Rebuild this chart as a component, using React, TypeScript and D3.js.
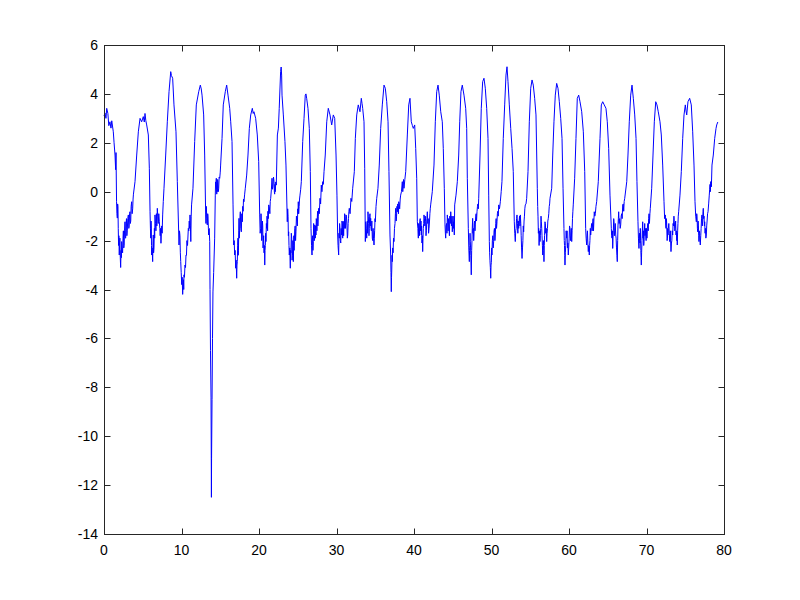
import React from "react";
import * as d3 from "d3";

const xTicks = [0, 10, 20, 30, 40, 50, 60, 70, 80];
const yTicks = [-14, -12, -10, -8, -6, -4, -2, 0, 2, 4, 6];
const xDomain: [number, number] = [0, 80];
const yDomain: [number, number] = [-14, 6];

// [time, value]
const signalPoints: [number, number][] = [
[0,3.1],[0.13,3.22],[0.25,3.0],[0.35,3.41],[0.5,3.2],[0.62,2.7],[0.77,2.86],[0.9,2.6],[1.0,2.9],[1.2,2.45],[1.3,2.0],[1.42,1.5],[1.5,0.9],[1.55,1.6],
[1.62,-0.41],[1.67,-0.9],[1.72,-1.08],[1.76,-0.5],[1.8,-0.6],[1.84,-1.5],[1.88,-2.2],[1.92,-1.8],[1.97,-2.59],[2.01,-2.2],[2.05,-1.9],[2.1,-2.7],[2.15,-3.1],[2.2,-2.4],[2.24,-2.7],[2.28,-2.04],[2.34,-2.3],[2.4,-2.5],[2.45,-1.9],[2.5,-1.6],[2.55,-2.3],[2.6,-2.2],[2.65,-1.6],[2.71,-1.23],[2.76,-1.9],[2.8,-1.9],[2.85,-1.3],[2.9,-1.1],[2.95,-1.8],[3.0,-1.6],[3.07,-1.1],[3.14,-0.95],[3.2,-1.5],[3.25,-1.4],[3.3,-0.9],[3.35,-0.82],[3.4,-1.3],[3.45,-1.2],[3.5,-0.6],[3.57,-0.41],[3.63,-0.9],[3.7,-0.7],[3.75,-0.3],[3.8,-0.1],
[4.0,0.41],[4.22,1.5],[4.43,2.45],[4.65,3.0],[4.86,2.86],[5.07,3.07],[5.2,2.85],[5.29,3.2],[5.4,2.9],[5.51,2.73],[5.72,2.32],[5.85,0.96],
[5.94,-0.82],[5.99,-1.5],[6.03,-1.9],[6.07,-1.2],[6.1,-1.4],[6.13,-2.2],[6.15,-2.59],[6.21,-2.3],[6.28,-2.86],[6.32,-2.1],[6.36,-1.77],[6.4,-2.5],[6.45,-2.3],[6.5,-1.5],[6.54,-1.9],[6.58,-0.95],[6.64,-1.3],[6.7,-1.6],[6.76,-0.9],[6.82,-1.4],[6.88,-0.68],[6.94,-1.0],[7.0,-1.3],[7.07,-0.9],[7.14,-1.23],[7.2,-1.5],[7.25,-1.8],[7.3,-1.5],[7.35,-2.11],[7.4,-1.7],[7.45,-1.4],[7.5,-1.7],[7.57,-0.95],[7.65,-0.4],[7.74,0.14],
[7.96,1.5],[8.17,2.86],[8.39,4.09],[8.61,4.91],[8.7,4.75],[8.86,4.64],[9.03,3.55],[9.29,2.45],[9.46,0.41],
[9.68,-2.18],[9.74,-1.6],[9.8,-1.8],[9.85,-2.5],[9.9,-2.86],[9.96,-3.3],[10.03,-3.8],[10.09,-3.5],[10.15,-4.2],[10.2,-3.8],[10.25,-3.6],[10.29,-4.0],[10.32,-3.4],[10.38,-3.5],[10.45,-3.0],[10.52,-3.1],[10.58,-2.59],[10.64,-2.6],[10.7,-2.0],[10.78,-2.2],[10.88,-1.5],[10.94,-1.6],[11.0,-1.2],[11.05,-1.5],[11.1,-0.95],[11.15,-1.4],[11.2,-2.04],[11.25,-1.0],[11.3,-0.54],
[11.48,0.14],[11.7,2.05],[11.91,3.55],[12.22,4.09],[12.43,4.36],[12.55,4.2],[12.65,3.95],[12.86,3.14],[12.99,1.5],
[13.12,-0.95],[13.16,-1.3],[13.2,-0.6],[13.27,-1.1],[13.33,-1.36],[13.38,-0.9],[13.42,-1.0],[13.47,-1.5],[13.51,-1.77],[13.57,-1.5],[13.64,-2.04],
[13.68,-4.0],[13.74,-6.5],[13.81,-8.4],[13.84,-10.8],[13.86,-12.5],[13.88,-10.9],[13.94,-8.5],[14.0,-6.0],[14.06,-4.1],[14.15,-3.3],[14.28,-1.9],
[14.36,-0.14],[14.4,0.4],[14.45,0.3],[14.49,0.55],[14.52,0.1],[14.55,-0.1],[14.59,0.3],[14.62,0.0],[14.66,0.5],[14.7,0.4],[14.75,0.0],[14.8,0.14],[14.86,0.6],[14.93,0.55],[15.0,0.8],[15.05,1.09],
[15.23,2.18],[15.39,3.55],[15.65,4.09],[15.83,4.36],[16.0,3.95],[16.22,3.41],[16.35,2.86],[16.52,2.05],
[16.65,-0.54],[16.74,-2.18],[16.8,-2.0],[16.86,-2.59],[16.92,-2.4],[16.99,-3.13],[17.05,-2.8],[17.12,-3.54],[17.16,-3.0],[17.2,-2.86],[17.25,-2.2],[17.29,-1.9],[17.32,-2.6],[17.35,-2.4],[17.39,-1.6],[17.42,-1.09],[17.46,-1.9],[17.5,-1.6],[17.55,-1.0],[17.59,-0.82],[17.65,-1.5],[17.72,-1.64],[17.78,-0.9],[17.85,-1.23],[17.9,-0.6],[17.95,-0.8],[18.0,-0.3],[18.06,-0.41],[18.15,-0.1],[18.23,0.14],
[18.41,0.68],[18.58,1.5],[18.75,2.59],[18.93,3.14],[19.14,3.41],[19.25,3.2],[19.35,3.27],[19.57,3.0],[19.78,2.32],[19.96,1.23],
[20.09,-0.95],[20.15,-1.7],[20.22,-1.5],[20.26,-0.9],[20.3,-1.2],[20.35,-2.0],[20.39,-1.77],[20.44,-1.2],[20.48,-1.4],[20.52,-2.3],[20.55,-2.18],[20.6,-1.8],[20.65,-2.5],[20.7,-2.2],[20.74,-3.0],[20.78,-2.4],[20.82,-2.2],[20.86,-1.7],[20.9,-2.04],[20.95,-1.3],[21.0,-1.5],[21.04,-1.0],[21.07,-1.23],[21.11,-1.6],[21.15,-0.8],[21.2,-1.1],[21.25,-0.54],[21.32,-0.6],[21.4,-0.9],[21.45,-0.4],[21.51,-0.27],[21.6,0.1],[21.68,0.55],[21.74,0.1],[21.8,0.2],[21.87,0.6],[21.94,0.41],[21.98,0.0],[22.02,-0.1],[22.06,0.3],[22.1,0.0],[22.16,0.4],[22.23,0.27],
[22.37,2.32],[22.5,2.6],[22.61,3.41],[22.79,4.91],[22.86,5.1],[22.92,4.77],[22.97,3.95],[23.14,3.14],[23.35,2.05],[23.48,1.09],
[23.65,-1.23],[23.7,-0.7],[23.75,-1.0],[23.79,-1.8],[23.83,-1.64],[23.87,-2.2],[23.91,-2.59],[23.97,-2.3],[24.04,-3.13],[24.08,-2.4],[24.12,-2.5],[24.17,-1.7],[24.22,-1.9],[24.27,-2.8],[24.32,-2.6],[24.37,-2.0],[24.43,-2.86],[24.47,-2.2],[24.5,-1.8],[24.53,-2.4],[24.56,-2.04],[24.62,-1.5],[24.67,-1.4],[24.72,-2.0],[24.77,-1.64],[24.83,-1.0],[24.9,-1.23],[24.95,-1.4],[25.0,-0.7],[25.04,-0.9],[25.07,-0.41],[25.12,-0.9],[25.18,-0.6],[25.23,-0.3],[25.29,-0.14],[25.38,0.1],[25.46,0.41],
[25.64,2.05],[25.81,3.0],[25.97,3.95],[26.06,4.0],[26.15,3.82],[26.32,3.41],[26.49,2.59],[26.62,0.82],
[26.71,-1.5],[26.78,-2.2],[26.84,-2.59],[26.88,-2.0],[26.92,-1.8],[26.96,-2.4],[27.01,-2.04],[27.05,-1.3],[27.1,-1.5],[27.15,-2.0],[27.19,-1.36],[27.23,-1.4],[27.27,-1.9],[27.31,-1.4],[27.35,-1.77],[27.39,-1.1],[27.43,-1.2],[27.47,-1.6],[27.52,-1.09],[27.56,-0.8],[27.6,-1.4],[27.65,-1.0],[27.7,-0.68],[27.78,-0.9],[27.87,-0.27],[27.95,-0.5],[28.04,0.27],[28.12,0.0],[28.22,0.41],[28.3,0.3],[28.39,0.82],
[28.55,1.5],[28.74,2.86],[28.94,3.41],[29.16,3.14],[29.38,2.73],[29.59,3.14],[29.77,3.0],[29.94,1.5],
[30.06,-0.14],[30.15,-1.77],[30.2,-2.2],[30.28,-2.59],[30.32,-1.7],[30.36,-1.9],[30.4,-1.3],[30.45,-1.5],[30.5,-2.0],[30.55,-2.1],[30.6,-1.5],[30.67,-1.77],[30.71,-1.2],[30.75,-1.3],[30.8,-1.9],[30.84,-1.23],[30.88,-1.4],[30.92,-1.8],[30.97,-1.2],[31.01,-1.5],[31.05,-0.9],[31.1,-1.0],[31.16,-1.5],[31.23,-0.95],[31.29,-1.0],[31.35,-1.4],[31.4,-1.9],[31.45,-1.77],[31.5,-1.3],[31.55,-1.1],[31.6,-0.8],[31.65,-0.68],[31.75,-0.9],[31.87,-0.27],[31.97,-0.4],[32.09,0.14],
[32.3,0.82],[32.43,2.18],[32.61,3.14],[32.81,3.55],[33.03,3.27],[33.2,3.82],[33.3,3.6],[33.38,3.41],[33.55,2.86],[33.64,0.96],
[33.72,-2.04],[33.77,-1.23],[33.83,-1.5],[33.9,-1.9],[33.94,-1.4],[33.98,-1.2],[34.02,-1.7],[34.06,-0.82],[34.1,-1.0],[34.15,-1.3],[34.19,-1.8],[34.23,-1.5],[34.28,-1.0],[34.32,-0.9],[34.37,-1.4],[34.41,-1.09],[34.45,-1.5],[34.5,-1.6],[34.56,-1.2],[34.62,-1.9],[34.67,-2.0],[34.72,-1.5],[34.78,-1.9],[34.84,-2.18],[34.88,-1.9],[34.92,-1.6],[34.97,-1.1],[35.01,-1.23],[35.1,-0.6],[35.19,-0.27],
[35.35,0.14],[35.52,1.09],[35.7,2.59],[35.91,3.55],[36.13,4.36],[36.3,4.23],[36.48,3.68],[36.65,2.86],[36.77,0.82],
[36.9,-1.77],[36.99,-2.59],[37.03,-3.3],[37.07,-4.09],[37.1,-3.5],[37.13,-3.2],[37.17,-2.6],[37.2,-2.86],[37.25,-2.3],[37.3,-2.5],[37.36,-1.9],[37.42,-2.04],[37.48,-1.5],[37.55,-1.3],[37.6,-0.9],[37.64,-0.68],[37.7,-1.2],[37.75,-1.0],[37.8,-0.6],[37.85,-0.82],[37.9,-0.5],[37.95,-0.6],[38.0,-0.9],[38.03,-0.41],[38.09,-0.5],[38.15,-0.7],[38.22,-0.3],[38.28,-0.14],[38.38,0.0],[38.49,0.41],[38.55,0.0],[38.6,0.2],[38.65,0.5],[38.71,0.14],[38.82,0.5],[38.93,0.82],
[39.14,2.32],[39.32,3.55],[39.48,3.82],[39.65,2.86],[39.8,2.7],[39.91,2.59],[40.09,2.73],[40.22,1.77],[40.35,0.55],
[40.43,-1.23],[40.5,-1.5],[40.56,-1.9],[40.6,-1.3],[40.65,-1.4],[40.7,-1.8],[40.74,-1.23],[40.8,-1.1],[40.85,-1.6],[40.9,-1.2],[40.94,-1.77],[40.98,-1.4],[41.03,-2.1],[41.08,-1.8],[41.12,-2.45],[41.16,-1.9],[41.2,-1.5],[41.25,-1.3],[41.29,-0.95],[41.35,-1.1],[41.4,-1.4],[41.45,-1.0],[41.51,-1.23],[41.55,-1.8],[41.6,-1.6],[41.66,-1.1],[41.72,-0.82],[41.78,-1.3],[41.83,-1.1],[41.88,-1.7],[41.94,-1.5],[42.0,-1.2],[42.05,-0.9],[42.1,-0.7],[42.15,-0.54],
[42.36,0.0],[42.58,1.09],[42.75,2.86],[42.93,4.09],[43.1,4.36],[43.26,3.95],[43.45,3.27],[43.65,2.86],[43.78,1.77],[43.91,0.14],
[44.0,-1.36],[44.05,-1.7],[44.09,-1.9],[44.14,-1.4],[44.2,-1.3],[44.25,-1.7],[44.3,-0.95],[44.35,-1.2],[44.4,-1.6],[44.46,-1.1],[44.52,-1.5],[44.57,-1.8],[44.62,-1.0],[44.68,-1.3],[44.74,-0.82],[44.79,-1.1],[44.84,-1.4],[44.89,-1.0],[44.94,-1.64],[45.0,-1.3],[45.05,-1.0],[45.09,-1.5],[45.12,-1.23],[45.16,-1.4],[45.2,-1.77],[45.25,-0.54],
[45.42,-0.14],[45.59,0.41],[45.77,1.5],[45.9,2.86],[46.06,4.09],[46.23,4.36],[46.45,3.95],[46.67,3.41],[46.8,2.59],[46.88,0.55],
[47.01,-1.5],[47.07,-2.3],[47.14,-2.86],[47.17,-2.4],[47.2,-2.2],[47.23,-1.7],[47.26,-2.04],[47.3,-2.3],[47.33,-2.6],[47.36,-3.0],[47.39,-3.4],[47.44,-2.4],[47.48,-2.0],[47.52,-1.5],[47.57,-1.09],[47.61,-1.7],[47.65,-1.5],[47.7,-2.0],[47.74,-1.77],[47.78,-1.3],[47.82,-1.2],[47.87,-1.6],[47.91,-1.36],[47.96,-1.0],[48.02,-0.9],[48.07,-1.2],[48.13,-0.82],[48.19,-0.6],[48.25,-0.5],[48.3,-0.7],[48.35,-0.27],
[48.52,1.5],[48.68,3.41],[48.86,4.5],[49.03,4.64],[49.2,4.23],[49.38,3.41],[49.55,2.18],
[49.64,-0.14],[49.72,-2.04],[49.76,-2.5],[49.8,-2.8],[49.85,-3.1],[49.9,-3.54],[49.94,-3.0],[49.98,-2.9],[50.02,-2.3],[50.06,-2.59],[50.11,-2.0],[50.17,-1.8],[50.22,-2.3],[50.28,-2.04],[50.33,-1.6],[50.38,-1.5],[50.44,-2.0],[50.49,-1.77],[50.55,-1.3],[50.6,-1.1],[50.65,-1.5],[50.71,-1.23],[50.76,-0.9],[50.82,-0.8],[50.87,-1.0],[50.93,-0.54],[51.03,-0.7],[51.14,-0.41],[51.25,0.0],[51.35,0.41],
[51.52,2.18],[51.7,3.55],[51.87,4.77],[52.0,5.11],[52.13,4.5],[52.3,3.55],[52.48,2.59],[52.65,1.77],[52.81,0.82],
[52.94,-1.23],[53.0,-1.7],[53.07,-2.04],[53.12,-1.6],[53.18,-1.5],[53.23,-1.1],[53.29,-0.95],[53.35,-1.3],[53.4,-1.7],[53.45,-1.2],[53.51,-1.5],[53.56,-1.2],[53.62,-1.0],[53.67,-1.4],[53.72,-0.95],[53.78,-1.3],[53.83,-1.8],[53.88,-2.3],[53.94,-2.73],[54.0,-2.3],[54.05,-2.0],[54.1,-1.4],[54.15,-1.64],[54.2,-1.2],[54.25,-1.0],[54.3,-0.7],[54.36,-0.54],[54.45,-0.5],[54.54,-0.27],
[54.71,0.82],[54.88,2.86],[55.06,4.23],[55.23,4.57],[55.39,4.36],[55.57,3.82],[55.74,3.14],
[55.91,0.14],[55.96,-0.6],[56.0,-1.0],[56.05,-1.7],[56.09,-1.5],[56.14,-2.2],[56.18,-1.9],[56.22,-1.6],[56.26,-2.04],[56.3,-1.8],[56.35,-1.5],[56.39,-1.0],[56.43,-1.23],[56.48,-1.5],[56.52,-1.8],[56.57,-2.2],[56.61,-2.59],[56.65,-2.3],[56.7,-2.0],[56.74,-2.4],[56.77,-2.86],[56.81,-2.2],[56.85,-1.8],[56.88,-1.4],[56.9,-1.23],[56.95,-1.3],[57.0,-1.7],[57.06,-1.5],[57.12,-2.04],[57.17,-1.7],[57.22,-1.5],[57.27,-1.2],[57.33,-1.09],[57.39,-0.9],[57.45,-0.6],[57.5,-0.5],[57.55,-0.27],
[57.77,0.14],[57.9,1.5],[58.06,2.86],[58.23,3.95],[58.41,4.43],[58.58,4.23],[58.75,3.68],[58.93,3.0],[59.1,2.18],[59.23,0.14],
[59.35,-1.5],[59.39,-2.0],[59.42,-2.2],[59.45,-2.6],[59.48,-3.0],[59.53,-2.5],[59.58,-2.2],[59.63,-1.6],[59.7,-1.9],[59.75,-1.6],[59.8,-2.3],[59.85,-2.1],[59.91,-2.59],[59.96,-2.3],[60.02,-1.9],[60.07,-1.4],[60.13,-1.5],[60.19,-2.0],[60.25,-1.8],[60.3,-1.5],[60.35,-2.04],[60.4,-1.6],[60.45,-1.1],[60.5,-0.8],[60.55,-0.54],
[60.73,0.55],[60.9,2.18],[61.07,3.82],[61.25,3.95],[61.42,3.68],[61.64,3.27],[61.85,2.45],[62.03,0.82],
[62.15,-1.5],[62.21,-1.9],[62.28,-2.18],[62.33,-1.8],[62.38,-1.6],[62.43,-2.1],[62.49,-2.45],[62.55,-2.2],[62.62,-2.59],[62.66,-2.2],[62.7,-2.0],[62.75,-1.5],[62.8,-1.77],[62.86,-1.5],[62.92,-1.3],[62.99,-1.6],[63.06,-1.23],[63.11,-1.1],[63.16,-1.6],[63.21,-1.2],[63.26,-0.82],[63.33,-1.0],[63.4,-0.9],[63.48,-0.6],[63.57,-0.41],
[63.78,0.41],[64.0,2.18],[64.17,3.55],[64.35,3.68],[64.55,3.55],[64.77,3.41],[64.94,2.86],[65.12,1.77],[65.29,-0.14],
[65.46,-1.5],[65.5,-1.8],[65.55,-1.9],[65.6,-1.6],[65.64,-2.32],[65.68,-1.9],[65.72,-1.6],[65.77,-1.1],[65.81,-1.23],[65.86,-1.8],[65.92,-1.6],[65.97,-1.3],[66.03,-1.77],[66.08,-1.9],[66.13,-2.3],[66.18,-2.6],[66.23,-2.86],[66.28,-2.0],[66.32,-1.4],[66.37,-1.1],[66.41,-0.82],[66.47,-1.3],[66.54,-1.1],[66.6,-1.5],[66.67,-1.36],[66.73,-1.0],[66.8,-0.9],[66.86,-1.1],[66.93,-0.54],[67.0,-0.5],[67.06,-0.8],[67.12,-0.4],[67.19,-0.27],
[67.45,0.41],[67.61,1.5],[67.78,2.86],[67.96,3.95],[68.13,4.36],[68.3,3.82],[68.48,3.14],[68.65,2.18],[68.77,0.41],
[68.9,-1.23],[68.96,-1.9],[69.03,-2.32],[69.06,-1.9],[69.1,-1.7],[69.15,-2.1],[69.2,-1.5],[69.24,-2.0],[69.27,-2.4],[69.3,-2.7],[69.33,-3.0],[69.37,-2.5],[69.42,-2.0],[69.46,-1.6],[69.51,-1.23],[69.55,-1.9],[69.6,-1.6],[69.64,-2.2],[69.68,-2.04],[69.72,-1.6],[69.77,-1.3],[69.81,-1.8],[69.85,-1.5],[69.9,-1.8],[69.95,-2.0],[70.0,-1.5],[70.06,-1.9],[70.11,-1.5],[70.17,-1.3],[70.22,-1.6],[70.28,-1.09],[70.33,-0.9],[70.38,-1.3],[70.44,-0.9],[70.49,-0.68],
[70.67,0.14],[70.84,1.5],[71.01,2.86],[71.19,3.68],[71.35,3.55],[71.52,3.27],[71.74,2.86],[71.91,2.32],[72.09,1.09],
[72.26,-0.41],[72.34,-1.1],[72.43,-0.95],[72.48,-1.4],[72.52,-1.5],[72.57,-1.1],[72.61,-1.36],[72.66,-2.0],[72.7,-1.9],[72.74,-1.5],[72.77,-1.77],[72.82,-1.5],[72.88,-1.3],[72.94,-1.7],[72.99,-2.04],[73.04,-1.8],[73.08,-1.6],[73.12,-2.1],[73.16,-2.45],[73.22,-2.1],[73.27,-2.0],[73.32,-1.6],[73.38,-1.77],[73.43,-1.3],[73.48,-1.4],[73.54,-1.0],[73.59,-1.23],[73.65,-1.6],[73.7,-1.5],[73.76,-1.2],[73.81,-1.77],[73.85,-1.6],[73.9,-2.0],[73.94,-1.7],[73.97,-2.18],[74.02,-1.6],[74.06,-1.3],[74.1,-1.0],[74.15,-0.82],
[74.32,-0.14],[74.49,0.82],[74.67,2.18],[74.84,3.14],[75.01,3.55],[75.1,3.3],[75.19,3.14],[75.35,3.68],[75.57,3.82],[75.78,3.55],[75.96,2.45],[76.13,1.09],
[76.26,-0.41],[76.35,-1.0],[76.43,-1.23],[76.48,-0.9],[76.52,-1.0],[76.57,-1.5],[76.61,-1.64],[76.66,-1.2],[76.7,-1.4],[76.74,-1.8],[76.77,-2.04],[76.81,-1.6],[76.85,-1.7],[76.9,-2.0],[76.94,-2.18],[77.0,-1.8],[77.05,-1.5],[77.1,-1.1],[77.16,-0.95],[77.2,-1.4],[77.25,-1.2],[77.29,-0.8],[77.33,-0.68],[77.38,-1.1],[77.42,-1.0],[77.47,-1.4],[77.51,-1.23],[77.56,-1.7],[77.6,-1.5],[77.66,-1.9],[77.72,-1.77],[77.77,-1.4],[77.82,-1.2],[77.88,-0.9],[77.94,-0.82],[78.02,-0.5],[78.1,-0.14],[78.15,0.1],[78.2,0.3],[78.24,0.0],[78.28,0.41],[78.33,0.4],[78.37,0.2],
[78.45,1.09],[78.62,1.5],[78.8,2.18],[78.97,2.59],[79.06,2.73],[79.2,2.85]
];

const W = 800;
const H = 600;
const left = 104;
const right = 724;
const top = 45;
const bottom = 534;
const tickLen = 6;

export default function App() {
  const x = d3.scaleLinear().domain(xDomain).range([left, right]);
  const y = d3.scaleLinear().domain(yDomain).range([bottom, top]);
  const line = d3
    .line<[number, number]>()
    .x((d) => x(d[0]))
    .y((d) => y(d[1]));
  const font = "'Liberation Sans', Arial, Helvetica, sans-serif";
  const axisColor = "#262626";
  return (
    <svg
      width={W}
      height={H}
      style={{ position: "absolute", left: 0, top: 0, background: "#fff" }}
    >
      <rect x={0} y={0} width={W} height={H} fill="#fff" />
      <path
        d={line(signalPoints) || ""}
        fill="none"
        stroke="#0000ff"
        strokeWidth={1}
        strokeLinejoin="miter"
      />
      <rect
        x={left + 0.5}
        y={top + 0.5}
        width={right - left}
        height={bottom - top}
        fill="none"
        stroke={axisColor}
        strokeWidth={1}
      />
      {xTicks.map((t) => {
        const px = Math.round(x(t)) + 0.5;
        return (
          <g key={"x" + t}>
            <line x1={px} x2={px} y1={bottom + 0.5} y2={bottom + 0.5 - tickLen} stroke={axisColor} />
            <line x1={px} x2={px} y1={top + 0.5} y2={top + 0.5 + tickLen} stroke={axisColor} />
            <text
              x={x(t)}
              y={555}
              textAnchor="middle"
              fontFamily={font}
              fontSize={14}
              fill="#000"
            >
              {t}
            </text>
          </g>
        );
      })}
      {yTicks.map((t) => {
        const py = Math.round(y(t)) + 0.5;
        return (
          <g key={"y" + t}>
            <line x1={left + 0.5} x2={left + 0.5 + tickLen} y1={py} y2={py} stroke={axisColor} />
            <line x1={right + 0.5} x2={right + 0.5 - tickLen} y1={py} y2={py} stroke={axisColor} />
            <text
              x={98}
              y={y(t) + 5}
              textAnchor="end"
              fontFamily={font}
              fontSize={14}
              fill="#000"
            >
              {t}
            </text>
          </g>
        );
      })}
    </svg>
  );
}
